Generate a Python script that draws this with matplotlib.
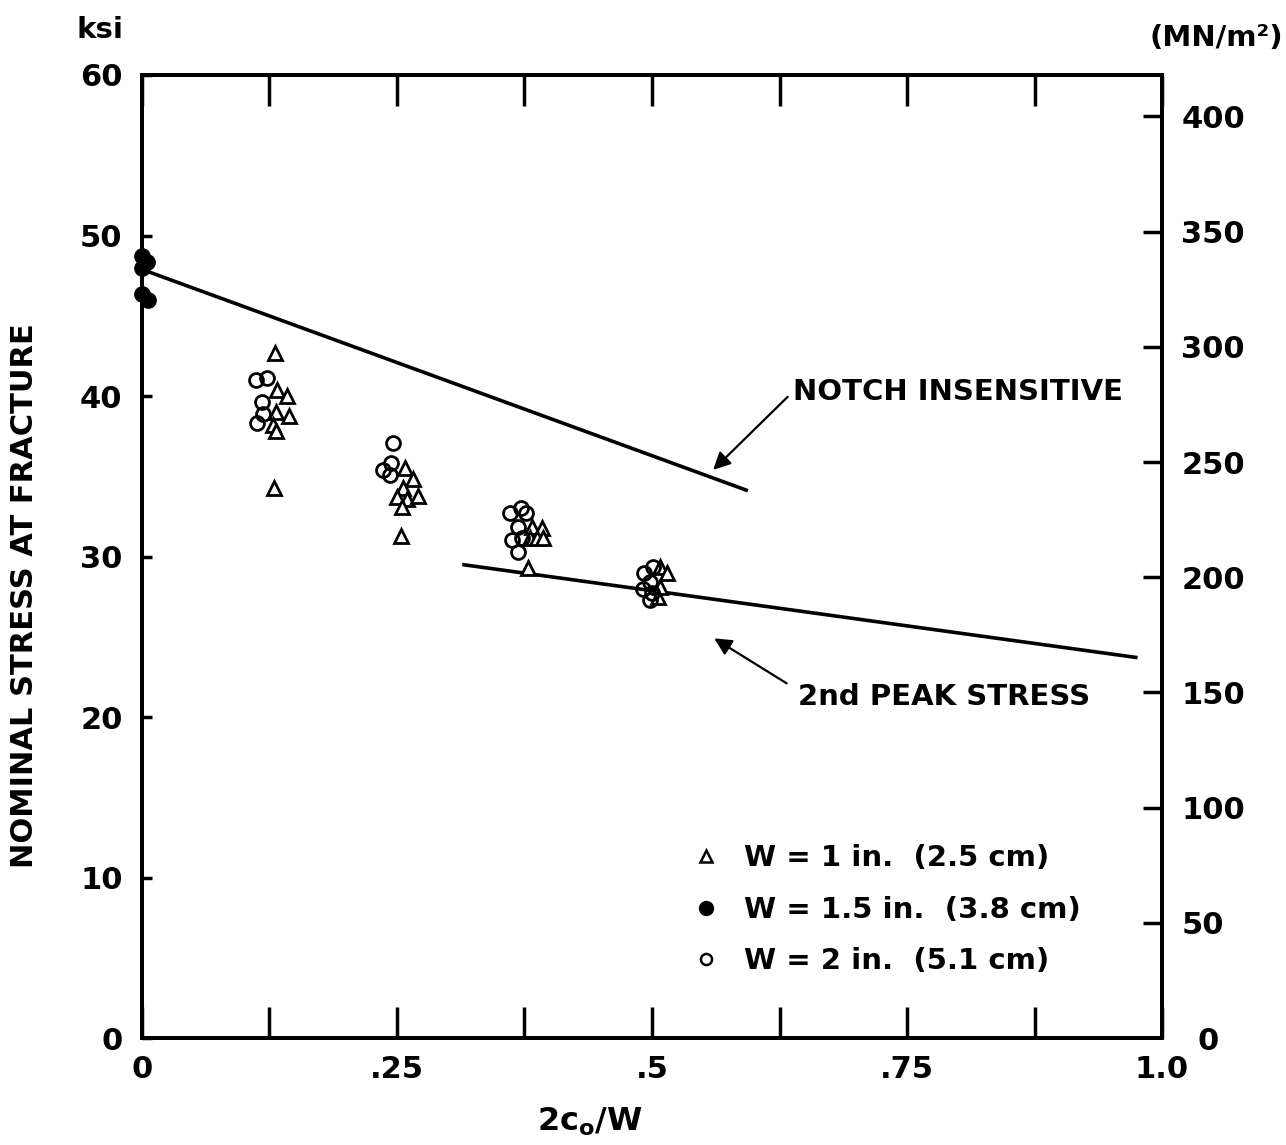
import matplotlib
matplotlib.use('Agg')
import matplotlib.pyplot as plt
from matplotlib.lines import Line2D

# --- data ---
w1_x = [0.130, 0.132, 0.142, 0.131, 0.144, 0.128, 0.131, 0.129,
        0.258, 0.266, 0.256, 0.250, 0.260, 0.271, 0.255, 0.254,
        0.382, 0.392, 0.380, 0.387, 0.393, 0.378,
        0.508, 0.515, 0.508, 0.506]
w1_y = [42.7, 40.4, 40.0, 39.0, 38.75, 38.2, 37.8, 34.3,
        35.5, 34.8, 34.3, 33.7, 33.6, 33.8, 33.1, 31.25,
        31.85, 31.8, 31.15, 31.15, 31.15, 29.3,
        29.35, 29.0, 28.1, 27.5]

w15_x = [0.0, 0.005, 0.0, 0.0, 0.006]
w15_y = [48.7, 48.35, 48.0, 46.35, 46.0]

w2_x = [0.112, 0.123, 0.118, 0.119, 0.113,
        0.246, 0.236, 0.244, 0.243,
        0.361, 0.372, 0.376, 0.369, 0.363, 0.373, 0.369,
        0.501, 0.492, 0.498, 0.491, 0.500, 0.498]
w2_y = [41.0, 41.1, 39.6, 38.9, 38.3,
        37.1, 35.4, 35.8, 35.1,
        32.7, 33.0, 32.7, 31.85, 31.0, 31.15, 30.3,
        29.35, 28.95, 28.4, 28.0, 27.7, 27.3]

notch_x = [0.006, 0.594]
notch_y = [47.75, 34.1]
peak_x = [0.314, 0.976]
peak_y = [29.5, 23.7]

legend_labels = ['W = 1 in.  (2.5 cm)', 'W = 1.5 in.  (3.8 cm)', 'W = 2 in.  (5.1 cm)']

x_ticks = [0, 0.125, 0.25, 0.375, 0.5, 0.625, 0.75, 0.875, 1.0]
x_ticklabels = ['0', '', '.25', '', '.5', '', '.75', '', '1.0']
y_ticks = [0, 10, 20, 30, 40, 50, 60]
mn_ticks = [50, 100, 150, 200, 250, 300, 350, 400]

plt.rcParams['font.family'] = 'DejaVu Sans'
plt.rcParams['font.weight'] = 'bold'
fs = 21

fig = plt.figure(figsize=(12.86, 11.45), dpi=100)
ax = fig.add_axes([0.1104, 0.0934, 0.7932, 0.8411])

ax.plot(notch_x, notch_y, color='k', lw=2.6, solid_capstyle='butt')
ax.plot(peak_x, peak_y, color='k', lw=2.6, solid_capstyle='butt')

ax.plot(w1_x, w1_y, ls='none', marker='^', ms=10, mfc='white', mec='k', mew=2.0)
ax.plot(w2_x, w2_y, ls='none', marker='o', ms=10, mfc='none', mec='k', mew=2.0)
ax.plot(w15_x, w15_y, ls='none', marker='o', ms=11, mfc='k', mec='k', clip_on=False, zorder=5)

arrow = dict(arrowstyle='-|>', color='k', lw=1.6, mutation_scale=26, shrinkA=0, shrinkB=0)
ax.annotate('', xy=(0.560, 35.4), xytext=(0.633, 39.95), arrowprops=arrow)
ax.text(0.638, 40.25, 'NOTCH INSENSITIVE', fontsize=fs, ha='left', va='center')
ax.annotate('', xy=(0.561, 24.9), xytext=(0.632, 22.1), arrowprops=arrow)
ax.text(0.643, 21.25, '2nd PEAK STRESS', fontsize=fs, ha='left', va='center')

ax.set_xlim(0, 1.0)
ax.set_ylim(0, 60)
ax.set_xticks(x_ticks)
ax.set_xticklabels(x_ticklabels)
ax.set_yticks(y_ticks)
ax.tick_params(axis='x', direction='in', length=22, width=2.5, labelsize=fs + 1, pad=12,
               top=True)
ax.tick_params(axis='y', direction='in', length=7, width=2.5, labelsize=fs + 1, pad=14)
for s in ax.spines.values():
    s.set_linewidth(2.8)

ax2 = ax.twinx()
ax2.set_ylim(0, 418)
ax2.set_yticks(mn_ticks)
ax2.tick_params(axis='y', direction='in', length=14, width=2.5, labelsize=fs + 1, pad=14)
for s in ax2.spines.values():
    s.set_linewidth(2.8)
ax2.text(1.035, -0.004, '0', transform=ax.transAxes, fontsize=fs + 1, ha='left', va='center')

handles = [
    Line2D([], [], ls='none', marker='^', ms=8, mfc='white', mec='k', mew=1.8),
    Line2D([], [], ls='none', marker='o', ms=10, mfc='k', mec='k'),
    Line2D([], [], ls='none', marker='o', ms=8, mfc='none', mec='k', mew=1.8),
]
ax.legend(handles, legend_labels, loc='upper left', bbox_to_anchor=(0.539, 0.201),
          frameon=False, fontsize=fs, handlelength=1.0, handletextpad=0.8,
          labelspacing=0.8, borderpad=0, borderaxespad=0)

fig.text(25 / 1286, 1 - 596 / 1145, 'NOMINAL STRESS AT FRACTURE', rotation=90,
         fontsize=fs + 1, ha='center', va='center')
fig.text(100 / 1286, 1 - 30 / 1145, 'ksi', fontsize=fs, ha='center', va='center')
fig.text(1283 / 1286, 1 - 38 / 1145, '(MN/m²)', fontsize=fs, ha='right', va='center')
fig.text(590 / 1286, 1 - 1122 / 1145, r'2c$_\mathbf{o}$/W', fontsize=fs + 2,
         ha='center', va='center')

fig.savefig('out.png', dpi=100)
